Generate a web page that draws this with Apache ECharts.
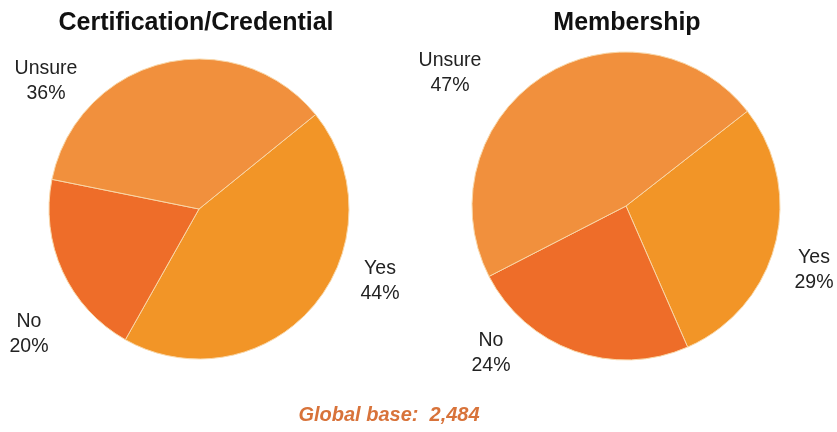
<!DOCTYPE html>
<html>
<head>
<meta charset="utf-8">
<script src="https://cdn.jsdelivr.net/npm/echarts@6/dist/echarts.min.js"></script>
<style>
html,body{margin:0;padding:0;background:#fff;}
#chart{width:837px;height:432px;}
</style>
</head>
<body>
<div id="chart"></div>
<script>
// Data
var categories = ['Yes', 'No', 'Unsure'];
var certValues = [44, 20, 36];
var memberValues = [29, 24, 47];
var chartTitles = ['Certification/Credential', 'Membership'];
var footnote = 'Global base:  2,484';

// Styles / layout (not data)
var sliceColors = ['#F29527', '#EE6D29', '#F1903D'];
var labelPos = [
  [[380, 281], [29, 334], [46, 81]],
  [[814, 270], [491, 353], [450, 73]]
];

function build(values) {
  return categories.map(function (c, i) {
    return { name: c, value: values[i], itemStyle: { color: sliceColors[i] } };
  });
}

var chart = echarts.init(document.getElementById('chart'), null, { renderer: 'canvas' });

var labelCommon = {
  show: true,
  position: 'inside',
  formatter: '{b}\n{d}%',
  fontFamily: 'Liberation Sans, Arial, sans-serif',
  fontSize: 19.5,
  lineHeight: 25,
  color: '#222',
  align: 'center',
  overflow: 'none'
};

function layoutFn(params) {
  var p = labelPos[params.seriesIndex][params.dataIndex];
  return { x: p[0], y: p[1], align: 'center', verticalAlign: 'middle' };
}

var titleFont = { fontFamily: 'Liberation Sans, Arial, sans-serif', fontSize: 25, fontWeight: 'bold', color: '#111' };

var option = {
  backgroundColor: '#ffffff',
  animation: false,
  title: [
    { text: chartTitles[0], left: 191, top: 6, textAlign: 'center', textStyle: titleFont },
    { text: chartTitles[1], left: 622, top: 6, textAlign: 'center', textStyle: titleFont },
    { text: footnote, left: 384, top: 400, textAlign: 'center',
      textStyle: { fontFamily: 'Liberation Sans, Arial, sans-serif', fontSize: 20, fontWeight: 'bold', fontStyle: 'italic', color: '#D8733A' } }
  ],
  series: [
    {
      type: 'pie',
      center: [199, 209],
      radius: 150,
      startAngle: 39,
      clockwise: true,
      data: build(certValues),
      label: labelCommon,
      labelLine: { show: false },
      labelLayout: layoutFn,
      itemStyle: { borderColor: '#F9D7A8', borderWidth: 1 },
      emphasis: { disabled: true }
    },
    {
      type: 'pie',
      center: [626, 206],
      radius: 154,
      startAngle: 38,
      clockwise: true,
      data: build(memberValues),
      label: labelCommon,
      labelLine: { show: false },
      labelLayout: layoutFn,
      itemStyle: { borderColor: '#F9D7A8', borderWidth: 1 },
      emphasis: { disabled: true }
    }
  ]
};
chart.setOption(option);
</script>
</body>
</html>
